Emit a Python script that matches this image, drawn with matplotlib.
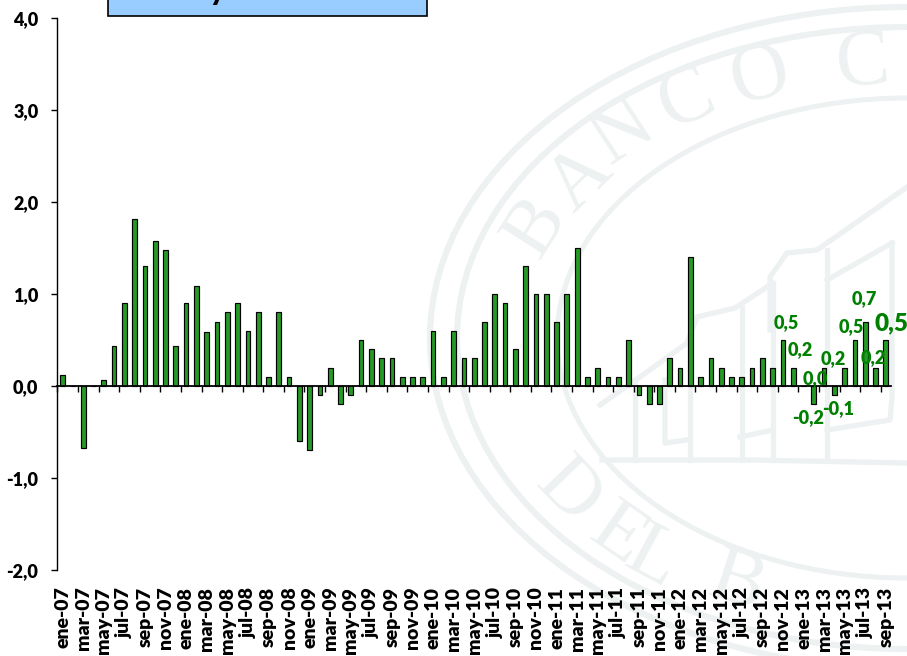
import math
import matplotlib
matplotlib.use("Agg")
import matplotlib.pyplot as plt
from matplotlib.lines import Line2D
from matplotlib.patches import Ellipse, Rectangle
from matplotlib.transforms import Affine2D

W, H = 907, 656
FONT = "Lato"
WEIGHT = 800

# ---------- data ----------
months = ["ene", "feb", "mar", "abr", "may", "jun", "jul", "ago", "sep", "oct", "nov", "dic"]
categories = [f"{months[i % 12]}-{7 + i // 12:02d}" for i in range(81)]
values_2007 = [0.12, 0.0, -0.67, 0.0, 0.07, 0.43, 0.9, 1.81, 1.3, 1.58, 1.48, 0.44]
values_2008 = [0.9, 1.09, 0.59, 0.7, 0.8, 0.9, 0.6, 0.8, 0.1, 0.8, 0.1, -0.6]
values_2009 = [-0.7, -0.1, 0.2, -0.2, -0.1, 0.5, 0.4, 0.3, 0.3, 0.1, 0.1, 0.1]
values_2010 = [0.6, 0.1, 0.6, 0.3, 0.3, 0.7, 1.0, 0.9, 0.4, 1.3, 1.0, 1.0]
values_2011 = [0.7, 1.0, 1.5, 0.1, 0.2, 0.1, 0.1, 0.5, -0.1, -0.2, -0.2, 0.3]
values_2012 = [0.2, 1.4, 0.1, 0.3, 0.2, 0.1, 0.1, 0.2, 0.3, 0.2, 0.5, 0.2]
values_2013 = [0.0, -0.2, 0.2, -0.1, 0.2, 0.5, 0.7, 0.2, 0.5]
values = values_2007 + values_2008 + values_2009 + values_2010 + values_2011 + values_2012 + values_2013

y_ticks = [-2, -1, 0, 1, 2, 3, 4]
y_tick_labels = ["-2,0", "-1,0", "0,0", "1,0", "2,0", "3,0", "4,0"]

# labelled bars: index, dx px, dy px (offsets)
label_index = [70, 71, 72, 73, 74, 75, 77, 78, 79, 80]
label_dx = [3.7, 7.4, 12, -5.5, 9.6, 4, -3.7, -0.7, -2.6, 5.7]
label_dy = [17, 17.6, 7, -13.6, 8.6, -13, 13, 22.6, 9.6, 17]

# ---------- figure ----------
fig = plt.figure(figsize=(W / 100, H / 100), dpi=100, facecolor="white")
px = Affine2D().scale(1, -1).translate(0, H)  # top-left pixel coordinates

# ---------- watermark seal ----------
SEAL = "#EDF1F1"
CX, CY = 907, 338
for rx, ry, lw in [(477, 331, 4.4), (450, 311, 4.4), (350, 240, 3.6)]:
    fig.add_artist(Ellipse((CX, CY), 2 * rx, 2 * ry, fill=False, edgecolor=SEAL, linewidth=lw,
                           transform=px, zorder=-2))

building = [
    [(602, 460), (753, 460), (907, 463)],
    [(635, 380), (635, 460)], [(690, 335), (690, 460)], [(742, 308), (742, 460)],
    [(773, 283), (773, 460)], [(827, 250), (827, 460)], [(892, 243), (892, 397), (890, 420), (827, 430)],
    [(600, 405), (640, 377), (687, 343), (697, 317), (735, 308), (773, 283)],
    [(770, 330), (770, 277), (787, 253), (817, 250), (907, 187)],
    [(827, 280), (892, 243)],
    [(665, 380), (665, 443), (687, 440)], [(740, 437), (773, 430)],
]
for line in building:
    xs, ys = zip(*line)
    fig.add_artist(Line2D(xs, ys, color=SEAL, linewidth=3.8, transform=px, zorder=-2))

seal_letters = [("B", 537, 227), ("A", 580, 180), ("N", 623, 133), ("C", 687, 100), ("O", 760, 78),
                ("C", 863, 65), ("D", 567, 493), ("E", 617, 537), ("L", 653, 560), ("B", 737, 585)]
for ch, x, y in seal_letters:
    dx, dy = x - CX, y - CY
    ang = math.degrees(math.atan2(-dx / 400 ** 2, -dy / 275 ** 2))
    if ang > 90:
        ang -= 180
    if ang < -90:
        ang += 180
    fig.text(x / W, 1 - y / H, ch, family="Liberation Serif", fontsize=58, color=SEAL,
             ha="center", va="center", rotation=ang, rotation_mode="anchor", zorder=-2)

# ---------- axes ----------
ax = fig.add_axes([57.5 / W, 1 - 570 / H, (891 - 57.5) / W, (570 - 18) / H])
ax.patch.set_alpha(0)
x = list(range(len(values)))
ax.bar(x, values, width=0.46, color="#269A26", edgecolor="black", linewidth=0.85, zorder=3)
ax.set_xlim(-0.5, 80.5)
ax.set_ylim(-2, 4)

for s in ("top", "right"):
    ax.spines[s].set_visible(False)
ax.spines["bottom"].set_position(("data", 0))
ax.spines["bottom"].set_linewidth(1.3)
ax.spines["bottom"].set_zorder(4)
ax.spines["left"].set_linewidth(1.0)

ax.set_yticks(y_ticks)
ax.set_yticklabels(y_tick_labels, family=FONT, fontweight=WEIGHT, fontsize=13, color="black")
ax.tick_params(axis="y", length=4.3, width=1.0, pad=9.4)

ax.set_xticks(x[::2])
ax.set_xticklabels(categories[::2], rotation=90, family=FONT, fontweight=WEIGHT, fontsize=14,
                   color="black", ha="center", va="top")
ax.tick_params(axis="x", which="major", length=0, pad=144.5)
ax.set_xticks([i - 0.5 for i in x[::2]], minor=True)
ax.tick_params(axis="x", which="minor", length=4.5, width=1.0, direction="out")

for i, dx, dy in zip(label_index, label_dx, label_dy):
    big = i == label_index[-1]
    ax.annotate(f"{values[i]:.1f}".replace(".", ","), xy=(i, values[i]), xytext=(dx, dy),
                textcoords="offset pixels", ha="center", va="center", family=FONT,
                fontweight=WEIGHT, fontsize=17.5 if big else 13, color="#008000",
                annotation_clip=False, zorder=6)

# ---------- clipped title box ----------
fig.add_artist(Rectangle((108, -20), 319, 36, facecolor="#99CCFF", edgecolor="black", linewidth=1.2,
                         transform=px, zorder=5))
fig.text(217 / W, 1.0, "y", family=FONT, fontweight=WEIGHT, fontsize=20, color="black",
         ha="center", va="baseline", zorder=6)

fig.savefig("out.png", dpi=100)
